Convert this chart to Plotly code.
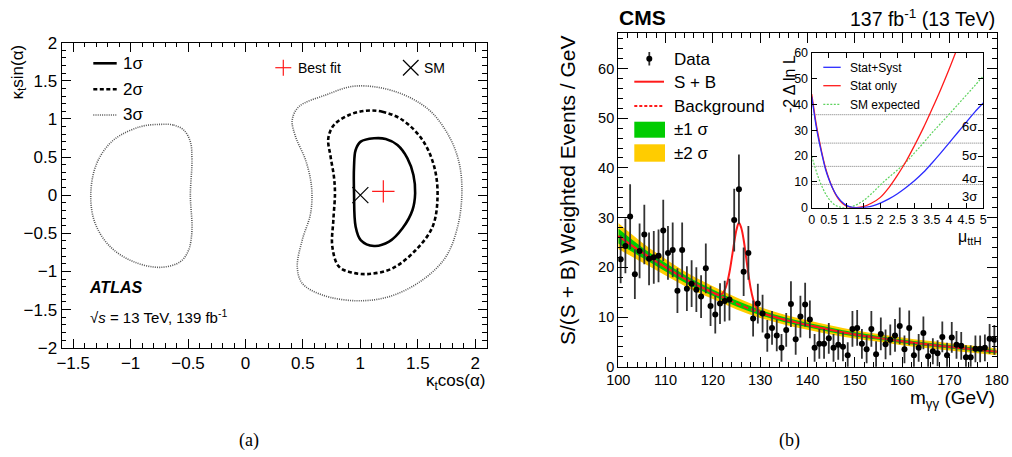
import plotly.graph_objects as go

W, H = 1012, 457
FONT = "Liberation Sans, Arial, Helvetica, sans-serif"

# ---------------- panel (a): ATLAS kappa_t contours ----------------
c1_x = [1.119, 1.221, 1.323, 1.41, 1.462, 1.477, 1.454, 1.367, 1.25, 1.119, 1.003, 0.959, 0.945, 0.945, 0.959, 1.003, 1.119]
c1_y = [0.746, 0.737, 0.658, 0.484, 0.265, 0.025, -0.194, -0.434, -0.61, -0.666, -0.588, -0.413, 0.025, 0.374, 0.593, 0.702, 0.746]

c2_x = [1.047, 1.192, 1.367, 1.541, 1.643, 1.672, 1.629, 1.483, 1.28, 1.075, 0.931, 0.814, 0.756, 0.765, 0.779, 0.770, 0.741, 0.721, 0.770, 0.901, 1.047]
c2_y = [1.108, 1.095, 0.986, 0.724, 0.374, -0.02, -0.413, -0.719, -0.959, -1.033, -1.016, -0.938, -0.675, -0.325, 0.025, 0.243, 0.505, 0.746, 0.921, 1.052, 1.108]

c3r_x = [0.959, 1.308, 1.599, 1.774, 1.861, 1.884, 1.847, 1.745, 1.541, 1.25, 0.959, 0.669, 0.494, 0.451, 0.494, 0.567, 0.575, 0.523, 0.436, 0.407, 0.465, 0.698, 0.959]
c3r_y = [1.432, 1.357, 1.117, 0.767, 0.418, 0.025, -0.413, -0.807, -1.112, -1.331, -1.384, -1.309, -1.156, -0.938, -0.588, -0.237, 0.111, 0.462, 0.767, 0.986, 1.161, 1.314, 1.432]

c3l_x = [-0.742, -0.626, -0.538, -0.48, -0.466, -0.48, -0.466, -0.495, -0.567, -0.742, -0.975, -1.178, -1.309, -1.347, -1.295, -1.149, -0.916, -0.742]
c3l_y = [0.929, 0.92, 0.855, 0.702, 0.461, 0.0, -0.457, -0.719, -0.872, -0.946, -0.872, -0.675, -0.369, 0.002, 0.417, 0.723, 0.898, 0.929]

best_fit_x = [1.2]
best_fit_y = [0.05]
sm_x = [1.0]
sm_y = [0.0]

# ---------------- panel (b): CMS diphoton mass ----------------
mass = [100.5, 101.5, 102.5, 103.5, 104.5, 105.5, 106.5, 107.5, 108.5, 109.5,
        110.5, 111.5, 112.5, 113.5, 114.5, 115.5, 116.5, 117.5, 118.5, 119.5,
        120.5, 121.5, 122.5, 123.5, 124.5, 125.5, 126.5, 127.5, 128.5, 129.5,
        130.5, 131.5, 132.5, 133.5, 134.5, 135.5, 136.5, 137.5, 138.5, 139.5,
        140.5, 141.5, 142.5, 143.5, 144.5, 145.5, 146.5, 147.5, 148.5, 149.5,
        150.5, 151.5, 152.5, 153.5, 154.5, 155.5, 156.5, 157.5, 158.5, 159.5,
        160.5, 161.5, 162.5, 163.5, 164.5, 165.5, 166.5, 167.5, 168.5, 169.5,
        170.5, 171.5, 172.5, 173.5, 174.5, 175.5, 176.5, 177.5, 178.5, 179.5]
events = [21.6, 24.3, 30.2, 18.6, 23.3, 26.6, 21.7, 22.0, 22.3, 27.4,
          22.9, 23.5, 15.3, 23.5, 15.7, 16.7, 15.5, 14.1, 19.8, 12.2,
          10.5, 12.7, 13.2, 13.5, 29.5, 35.7, 19.1, 22.9, 9.7, 12.7,
          10.7, 6.2, 7.8, 6.3, 3.8, 7.4, 12.6, 5.5, 10.1, 12.5,
          9.5, 3.8, 4.6, 4.6, 5.7, 3.8, 4.4, 4.0, 2.3, 7.6,
          7.8, 4.6, 3.5, 7.6, 2.5, 6.6, 4.5, 5.4, 6.3, 8.2,
          3.5, 7.8, 2.3, 3.8, 6.8, 2.1, 3.1, 2.7, 6.0, 2.3,
          5.9, 4.4, 4.2, 1.9, 1.9, 3.6, 3.6, 3.8, 5.6, 5.4]
events_err = [4.8, 5.5, 6.5, 5.0, 5.5, 6.0, 5.3, 5.3, 5.3, 6.2,
              5.4, 5.5, 4.5, 5.5, 4.5, 4.7, 4.5, 4.3, 5.0, 4.0,
              3.8, 4.1, 4.1, 4.2, 6.3, 7.0, 4.9, 5.4, 3.6, 4.0,
              3.8, 3.2, 3.4, 3.2, 2.8, 3.4, 4.6, 3.1, 4.2, 4.4,
              3.8, 2.8, 3.0, 3.0, 3.1, 2.8, 3.0, 2.9, 2.6, 3.6,
              3.6, 3.0, 2.8, 3.6, 2.6, 3.3, 3.0, 3.1, 3.3, 3.7,
              2.8, 3.5, 2.5, 2.8, 3.3, 2.5, 2.6, 2.6, 3.1, 2.5,
              3.1, 2.8, 2.8, 2.4, 2.4, 2.7, 2.7, 2.7, 3.0, 3.0]

bkg_m = [100, 105, 110, 115, 120, 125, 130, 135, 140, 145, 150, 155, 160, 165, 170, 175, 180]
bkg = [26.3, 23.0, 20.0, 17.2, 14.9, 12.7, 10.9, 9.5, 8.4, 7.4, 6.5, 5.8, 5.1, 4.5, 4.0, 3.5, 3.0]
bkg_1sig = [1.5, 1.05, 0.85, 0.75, 0.65, 0.6, 0.55, 0.5, 0.45, 0.45, 0.42, 0.4, 0.38, 0.36, 0.35, 0.34, 0.33]
bkg_2sig = [2.6, 2.0, 1.65, 1.45, 1.3, 1.2, 1.1, 1.0, 0.95, 0.9, 0.85, 0.8, 0.78, 0.75, 0.72, 0.7, 0.68]

sb_m = [100, 105, 110, 115, 120, 121, 121.5, 122, 122.5, 123, 123.5, 124, 124.5, 125, 125.5, 126,
        126.5, 127, 127.5, 128, 128.5, 129, 129.5, 130, 131, 135, 140, 145, 150, 155, 160, 165, 170, 175, 180]
sb = [26.3, 23.0, 20.0, 17.2, 14.9, 14.55, 14.5, 14.75, 15.45, 16.8, 19.0, 21.9, 25.0, 27.6, 28.95, 27.9,
      25.55, 22.15, 18.7, 15.7, 13.6, 12.25, 11.45, 11.05, 10.6, 9.5, 8.4, 7.4, 6.5, 5.8, 5.1, 4.5, 4.0, 3.5, 3.0]

# inset: likelihood scans
mu_ss = [0, 0.05, 0.1, 0.15, 0.2, 0.3, 0.4, 0.5, 0.6, 0.7, 0.8, 0.9, 1.0, 1.1, 1.2, 1.3, 1.4, 1.6, 1.8, 2.0,
         2.25, 2.5, 2.75, 3.0, 3.25, 3.5, 3.75, 4.0, 4.25, 4.5, 4.75, 5.0]
nll_ss = [43, 38.5, 34, 30, 26.5, 20.5, 15, 11, 7.8, 5.3, 3.4, 2.0, 1.0, 0.4, 0.1, 0.01, 0, 0.2, 0.8, 1.8,
          3.4, 5.4, 7.8, 10.5, 13.6, 17.2, 21, 25, 29, 33, 37, 40.5]
mu_st = [0, 0.05, 0.1, 0.15, 0.2, 0.3, 0.4, 0.5, 0.6, 0.7, 0.8, 0.9, 1.0, 1.1, 1.2, 1.3, 1.5, 1.75, 2.0,
         2.25, 2.5, 2.75, 3.0, 3.25, 3.5, 3.75, 4.0, 4.25]
nll_st = [44, 39.5, 35, 31, 27.5, 21, 15.5, 11.3, 7.8, 5.0, 3.0, 1.6, 0.7, 0.2, 0.02, 0, 0.4, 1.8, 4.0,
          7.8, 12.6, 18, 24.2, 30.8, 38, 45.5, 53.5, 62]
mu_sm = [0, 0.1, 0.2, 0.3, 0.4, 0.5, 0.6, 0.7, 0.8, 0.9, 1.0, 1.25, 1.5, 1.75, 2.0, 2.25, 2.5, 2.75, 3.0,
         3.25, 3.5, 3.75, 4.0, 4.25, 4.5, 4.75, 5.0]
nll_sm = [20, 15.5, 11.5, 8.2, 5.5, 3.4, 1.9, 0.9, 0.3, 0.05, 0, 0.8, 2.7, 5.5, 8.8, 11.8, 14.6, 17.6, 21.3,
          25.0, 28.9, 32.5, 36.1, 39.8, 43.5, 47.2, 51.0]
sig_levels = [9, 16, 25, 36]
sig_labels = ["3σ", "4σ", "5σ", "6σ"]

# colours
RED = "#ff1a1a"
GREEN_B = "#00cc00"
YELLOW_B = "#ffcc00"
BLUE = "#2b2bff"
LGREEN = "#5fd35f"


def PX(x):
    return x / W


def PY(y):
    return 1 - y / H


fig = go.Figure()

# ---- panel (a) traces ----
fig.add_trace(go.Scatter(x=c3l_x, y=c3l_y, mode="lines", line=dict(color="#555555", width=1.6, dash="1px,1.2px", shape="spline"),
                         xaxis="x", yaxis="y", showlegend=False))
fig.add_trace(go.Scatter(x=c3r_x, y=c3r_y, mode="lines", line=dict(color="#555555", width=1.6, dash="1px,1.2px", shape="spline"),
                         xaxis="x", yaxis="y", showlegend=False))
fig.add_trace(go.Scatter(x=c2_x, y=c2_y, mode="lines", line=dict(color="black", width=2.6, dash="4px,2.5px", shape="spline"),
                         xaxis="x", yaxis="y", showlegend=False))
fig.add_trace(go.Scatter(x=c1_x, y=c1_y, mode="lines", line=dict(color="black", width=2.6, shape="spline"),
                         xaxis="x", yaxis="y", showlegend=False))
fig.add_trace(go.Scatter(x=sm_x, y=sm_y, mode="markers",
                         marker=dict(symbol="x-thin", size=16, line=dict(color="black", width=1.2)),
                         xaxis="x", yaxis="y", showlegend=False))
fig.add_trace(go.Scatter(x=best_fit_x, y=best_fit_y, mode="markers",
                         marker=dict(symbol="cross-thin", size=16, line=dict(color=RED, width=1.2)),
                         xaxis="x", yaxis="y", showlegend=False))

# ---- panel (b) traces ----
lo2 = [b - e for b, e in zip(bkg, bkg_2sig)]
hi2 = [b + e for b, e in zip(bkg, bkg_2sig)]
lo1 = [b - e for b, e in zip(bkg, bkg_1sig)]
hi1 = [b + e for b, e in zip(bkg, bkg_1sig)]
fig.add_trace(go.Scatter(x=bkg_m, y=lo2, mode="lines", line=dict(width=0, shape="spline"),
                         xaxis="x2", yaxis="y2", showlegend=False, hoverinfo="skip"))
fig.add_trace(go.Scatter(x=bkg_m, y=hi2, mode="lines", line=dict(width=0, shape="spline"), fill="tonexty",
                         fillcolor=YELLOW_B, xaxis="x2", yaxis="y2", showlegend=False, hoverinfo="skip"))
fig.add_trace(go.Scatter(x=bkg_m, y=lo1, mode="lines", line=dict(width=0, shape="spline"),
                         xaxis="x2", yaxis="y2", showlegend=False, hoverinfo="skip"))
fig.add_trace(go.Scatter(x=bkg_m, y=hi1, mode="lines", line=dict(width=0, shape="spline"), fill="tonexty",
                         fillcolor=GREEN_B, xaxis="x2", yaxis="y2", showlegend=False, hoverinfo="skip"))
fig.add_trace(go.Scatter(x=bkg_m, y=bkg, mode="lines", line=dict(color=RED, width=2, dash="5px,3px", shape="spline"),
                         xaxis="x2", yaxis="y2", showlegend=False))
fig.add_trace(go.Scatter(x=sb_m, y=sb, mode="lines", line=dict(color=RED, width=2, shape="spline"),
                         xaxis="x2", yaxis="y2", showlegend=False))
fig.add_trace(go.Scatter(x=mass, y=events, mode="markers",
                         marker=dict(color="black", size=6),
                         error_y=dict(type="data", array=events_err, color="#333333", thickness=1.8, width=0),
                         xaxis="x2", yaxis="y2", showlegend=False))

# ---- inset traces ----
for lvl in sig_levels:
    fig.add_trace(go.Scatter(x=[0, 5], y=[lvl, lvl], mode="lines",
                             line=dict(color="#777777", width=1, dash="1px,1px"),
                             xaxis="x3", yaxis="y3", showlegend=False, hoverinfo="skip"))
fig.add_trace(go.Scatter(x=mu_sm, y=nll_sm, mode="lines", line=dict(color=LGREEN, width=1.2, dash="2px,1.5px", shape="spline"),
                         xaxis="x3", yaxis="y3", showlegend=False))
fig.add_trace(go.Scatter(x=mu_st, y=nll_st, mode="lines", line=dict(color=RED, width=1.3, shape="spline"),
                         xaxis="x3", yaxis="y3", showlegend=False))
fig.add_trace(go.Scatter(x=mu_ss, y=nll_ss, mode="lines", line=dict(color=BLUE, width=1.3, shape="spline"),
                         xaxis="x3", yaxis="y3", showlegend=False))


# ---- axes ----
def ax(domain, rng, dtick, minor_dtick, anchor, fsize, ticklen=9, minorlen=4.5, tick0=0):
    d = dict(domain=domain, range=rng, dtick=dtick, tick0=tick0, anchor=anchor, automargin=False,
             ticks="inside", ticklen=ticklen, tickwidth=1, tickcolor="black",
             showline=True, linecolor="black", linewidth=1.3, mirror="ticks",
             showgrid=False, zeroline=False,
             tickfont=dict(family=FONT, size=fsize, color="black"))
    if minor_dtick:
        d["minor"] = dict(dtick=minor_dtick, ticks="inside", ticklen=minorlen, tickcolor="black", showgrid=False)
    return d


layout = dict(
    width=W, height=H, margin=dict(l=0, r=0, t=0, b=0, autoexpand=False),
    paper_bgcolor="white", plot_bgcolor="white", showlegend=False,
    font=dict(family=FONT, color="black"),
    xaxis=ax([PX(61.7), PX(486.7)], [-1.6, 2.1], 0.5, 0.1, "y", 17),
    yaxis=ax([PY(347.7), PY(42.7)], [-2, 2], 0.5, 0.1, "x", 17),
    xaxis2=ax([PX(618.3), PX(996.7)], [100, 180], 10, 2, "y2", 14.5, ticklen=10, minorlen=5),
    yaxis2=ax([PY(366.7), PY(32.7)], [0, 67.2], 10, 2, "x2", 14.5, ticklen=10, minorlen=5),
    xaxis3=ax([PX(811.7), PX(983.3)], [0, 5], 0.5, None, "y3", 12.5, ticklen=5),
    yaxis3=ax([PY(207.7), PY(52.7)], [0, 60], 10, None, "x3", 12.5, ticklen=5),
)
fig.update_layout(**layout)

ann = []
shapes = []


def text(x, y, s, size, xanchor="left", yanchor="middle", angle=0, family=FONT, color="black"):
    ann.append(dict(x=PX(x), y=PY(y), xref="paper", yref="paper", text=s, showarrow=False,
                    xanchor=xanchor, yanchor=yanchor, textangle=angle,
                    font=dict(family=family, size=size, color=color)))


def hline(x0, x1, y, color, width, dash="solid"):
    shapes.append(dict(type="line", xref="paper", yref="paper", x0=PX(x0), x1=PX(x1), y0=PY(y), y1=PY(y),
                       line=dict(color=color, width=width, dash=dash)))


def seg(x0, y0, x1, y1, color, width):
    shapes.append(dict(type="line", xref="paper", yref="paper", x0=PX(x0), x1=PX(x1), y0=PY(y0), y1=PY(y1),
                       line=dict(color=color, width=width)))


def box(x0, y0, x1, y1, color):
    shapes.append(dict(type="rect", xref="paper", yref="paper", x0=PX(x0), x1=PX(x1), y0=PY(y0), y1=PY(y1),
                       fillcolor=color, line=dict(width=0)))


# panel (a) decorations
hline(93.3, 116.7, 63.3, "black", 2.6)
hline(93.3, 116.7, 89.3, "black", 2.6, "4px,2.5px")
hline(93.3, 116.7, 115, "#555555", 1.6, "1px,1.2px")
text(121, 63.5, "1σ", 17)
text(121, 89.5, "2σ", 17)
text(121, 115, "3σ", 17)
seg(275.3, 67.7, 291.3, 67.7, RED, 1.2)
seg(283.3, 59.7, 283.3, 75.7, RED, 1.2)
text(295.5, 68, "Best fit", 14)
seg(403, 60, 418.5, 75.5, "black", 1.2)
seg(403, 75.5, 418.5, 60, "black", 1.2)
text(421.5, 68, "SM", 14)
text(87, 287, "<b><i>ATLAS</i></b>", 16)
text(88, 316, "√<i>s</i> = 13 TeV, 139 fb<sup>-1</sup>", 15)
text(18, 43, "κ<sub>t</sub>sin(α)", 17, xanchor="center", yanchor="top", angle=-90)
text(487, 382, "κ<sub>t</sub>cos(α)", 17, xanchor="right")
text(249, 440, "(a)", 18, xanchor="center", family="Liberation Serif, Times New Roman, serif")

# panel (b) decorations
text(617, 18, "<b>CMS</b>", 21)
text(997, 18, "137 fb<sup>-1</sup> (13 TeV)", 19.5, xanchor="right")
text(567, 33, "S/(S + B) Weighted Events / GeV", 21, xanchor="center", yanchor="top", angle=-90)
text(997, 399, "m<sub>γγ</sub> (GeV)", 19, xanchor="right")
text(789, 440, "(b)", 18, xanchor="center", family="Liberation Serif, Times New Roman, serif")

seg(649.3, 52, 649.3, 65.5, "#333333", 1.8)
shapes.append(dict(type="circle", xref="paper", yref="paper", x0=PX(646.3), x1=PX(652.3), y0=PY(55.7), y1=PY(61.7),
                   fillcolor="black", line=dict(color="black", width=0)))
hline(634.3, 664, 81.7, RED, 2)
hline(634.3, 664, 106, RED, 2, "3px,2px")
box(634.3, 121.7, 665, 137.7, GREEN_B)
box(634.3, 144.3, 665, 161.7, YELLOW_B)
text(672, 59, "Data", 17)
text(672, 82.5, "S + B", 17)
text(672, 106, "Background", 17)
text(672, 130, "±1 σ", 17)
text(672, 153.5, "±2 σ", 17)

# inset decorations
hline(823.3, 840.7, 67.3, BLUE, 1.3)
hline(823.3, 840.7, 85.7, RED, 1.3)
hline(823.3, 840.7, 104.3, LGREEN, 1.2, "2px,1.5px")
text(847.5, 67.5, "Stat+Syst", 12)
text(847.5, 86, "Stat only", 12)
text(847.5, 104.5, "SM expected", 12)
text(789, 53, "-2 Δ ln L", 16, xanchor="center", yanchor="top", angle=-90)
text(983.5, 237, "μ<sub>ttH</sub>", 16, xanchor="right")
for lvl, lab in zip(sig_levels, sig_labels):
    ann.append(dict(x=4.88, y=lvl - 1.0, xref="x3", yref="y3", text=lab, showarrow=False,
                    xanchor="right", yanchor="top", font=dict(family=FONT, size=13, color="black")))

fig.update_layout(annotations=ann, shapes=shapes)
fig.write_html("out.html",
               config={"displayModeBar": False},
               post_script="document.body.style.margin='0px';document.body.style.padding='0px';"
                           "document.body.style.overflow='hidden';")
